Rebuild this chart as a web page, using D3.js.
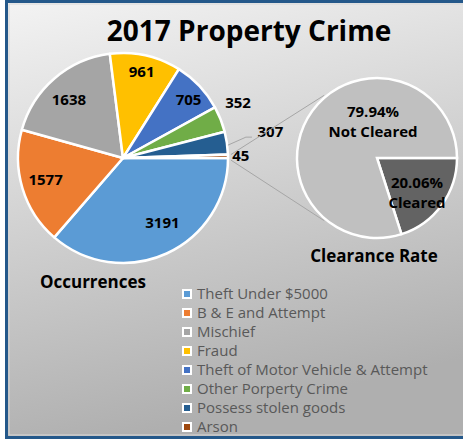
<!DOCTYPE html>
<html>
<head>
<meta charset="utf-8">
<script src="https://cdn.jsdelivr.net/npm/d3@7"></script>
<style>
  body { margin: 0; }
  text { font-family: "Open Sans", sans-serif; }
</style>
</head>
<body>
<script>
const width = 463;
const height = 439;

// data
const categories = ["Theft Under $5000", "B & E and Attempt", "Mischief", "Fraud",
    "Theft of Motor Vehicle & Attempt", "Other Porperty Crime", "Possess stolen goods", "Arson"];
const occurrences = [3191, 1577, 1638, 961, 705, 352, 307, 45];
const colors = ["#5b9bd5", "#ed7d31", "#a5a5a5", "#ffc000", "#4472c4", "#70ad47", "#255e91", "#9e480e"];

const clearLabels = ["Cleared", "Not Cleared"];
const clearPct = [20.06, 79.94];
const clearColors = ["#636363", "#c0c0c0"];

const main = { cx: 123, cy: 158, r: 105 };
const second = { cx: 377, cy: 158, r: 80 };

let svg = d3.select("body").append("svg")
    .attr("width", width)
    .attr("height", height);

let defs = svg.append("defs");
let grad = defs.append("linearGradient")
    .attr("id", "bg")
    .attr("x1", "0").attr("y1", "0")
    .attr("x2", "0.25").attr("y2", "1");
grad.append("stop").attr("offset", "0%").attr("stop-color", "#f3f3f3");
grad.append("stop").attr("offset", "100%").attr("stop-color", "#afafaf");

svg.append("rect")
    .attr("x", 6.5).attr("y", 1.5)
    .attr("width", 470).attr("height", 436)
    .attr("fill", "url(#bg)")
    .attr("stroke", "#24588a")
    .attr("stroke-width", 3);

svg.append("rect")
    .attr("x", 9).attr("y", 4)
    .attr("width", 470).attr("height", 431)
    .attr("fill", "none")
    .attr("stroke", "#d8d8d8")
    .attr("stroke-width", 1);

svg.append("text")
    .attr("x", 249).attr("y", 41)
    .attr("text-anchor", "middle")
    .style("font-size", "28px")
    .style("font-weight", "bold")
    .attr("fill", "#000")
    .text("2017 Property Crime");

// main pie
let pie = d3.pie()
    .sort(null)
    .startAngle(Math.PI / 2)
    .endAngle(Math.PI / 2 + 2 * Math.PI);

let arcs = pie(occurrences);
let arc = d3.arc().innerRadius(0).outerRadius(main.r);

let g = svg.append("g")
    .attr("transform", `translate(${main.cx},${main.cy})`);

// connector lines to the second pie
const pt = (cx, cy, r, a) => [cx + r * Math.sin(a), cy - r * Math.cos(a)];
let last = arcs[arcs.length - 1];
let top1 = pt(main.cx, main.cy, main.r + 3, last.startAngle);
let bot1 = pt(main.cx, main.cy, main.r + 3, last.endAngle + 0.02);
let top2 = pt(second.cx, second.cy, second.r + 2, -0.7);
let bot2 = pt(second.cx, second.cy, second.r + 2, Math.PI + 0.7);

svg.append("path")
    .attr("d", d3.line()([top1, top2]))
    .attr("stroke", "#a6a6a6").attr("fill", "none").attr("stroke-width", 1);
svg.append("path")
    .attr("d", d3.line()([bot1, bot2]))
    .attr("stroke", "#a6a6a6").attr("fill", "none").attr("stroke-width", 1);

g.selectAll(".slice")
    .data(arcs)
    .enter()
    .append("path")
    .attr("class", "slice")
    .attr("d", arc)
    .attr("fill", (d, i) => colors[i])
    .attr("stroke", "#fff")
    .attr("stroke-width", 2.5)
    .attr("stroke-linejoin", "round");

// label placement: inside for big slices, outside for small ones
const labelRadius = [0.72, 0.73, 0.73, 0.82, 0.78, 1.22, 1.36, 1.17];
const labelShift = [[8, -4], [-4, 0], [-4, 0], [0, -2], [6, -2], [-4, -8], [6, -6], [-5, 0]];

g.selectAll(".lbl")
    .data(arcs)
    .enter()
    .append("text")
    .attr("class", "lbl")
    .attr("x", (d, i) => {
        let a = (d.startAngle + d.endAngle) / 2;
        return main.r * labelRadius[i] * Math.sin(a) + labelShift[i][0];
    })
    .attr("y", (d, i) => {
        let a = (d.startAngle + d.endAngle) / 2;
        return -main.r * labelRadius[i] * Math.cos(a) + labelShift[i][1];
    })
    .attr("dy", "0.36em")
    .attr("text-anchor", "middle")
    .style("font-size", "15px")
    .style("font-weight", "bold")
    .attr("fill", "#000")
    .text(d => d.data);

// leader line for the 307 slice
let p307 = arcs[6];
let a307 = (p307.startAngle + p307.endAngle) / 2;
let s307 = [main.r * Math.sin(a307) + 1, -main.r * Math.cos(a307) + 2];
g.append("path")
    .attr("d", d3.line()([s307, [s307[0] + 18, s307[1] - 8], [s307[0] + 24, s307[1] - 8]]))
    .attr("stroke", "#a6a6a6").attr("fill", "none").attr("stroke-width", 1);

svg.append("text")
    .attr("x", 93).attr("y", 288)
    .attr("text-anchor", "middle")
    .style("font-size", "17px")
    .style("font-weight", "bold")
    .attr("fill", "#000")
    .text("Occurrences");

// second pie
let pie2 = d3.pie()
    .sort(null)
    .startAngle(Math.PI / 2)
    .endAngle(Math.PI / 2 + 2 * Math.PI);
let arcs2 = pie2(clearPct);
let arc2 = d3.arc().innerRadius(0).outerRadius(second.r);

let g2 = svg.append("g")
    .attr("transform", `translate(${second.cx},${second.cy})`);

g2.selectAll(".slice2")
    .data(arcs2)
    .enter()
    .append("path")
    .attr("class", "slice2")
    .attr("d", arc2)
    .attr("fill", (d, i) => clearColors[i])
    .attr("stroke", "#fff")
    .attr("stroke-width", 2.5);

const clearLabelPos = [[40, 40], [-4, -31]];
arcs2.forEach((d, i) => {
    let t = g2.append("text")
        .attr("text-anchor", "middle")
        .style("font-size", "15px")
        .style("font-weight", "bold")
        .attr("fill", "#000");
    t.append("tspan")
        .attr("x", clearLabelPos[i][0]).attr("y", clearLabelPos[i][1] - 10)
        .text(d3.format(".2f")(d.data) + "%");
    t.append("tspan")
        .attr("x", clearLabelPos[i][0]).attr("y", clearLabelPos[i][1] + 10)
        .text(clearLabels[i]);
});

svg.append("text")
    .attr("x", 374).attr("y", 262)
    .attr("text-anchor", "middle")
    .style("font-size", "17px")
    .style("font-weight", "bold")
    .attr("fill", "#000")
    .text("Clearance Rate");

// legend
let legend = svg.append("g")
    .attr("transform", "translate(182,294)");

let item = legend.selectAll(".item")
    .data(categories)
    .enter()
    .append("g")
    .attr("class", "item")
    .attr("transform", (d, i) => `translate(0,${i * 19})`);

item.append("rect")
    .attr("x", 0).attr("y", -5)
    .attr("width", 10).attr("height", 10)
    .attr("fill", "#fff");
item.append("rect")
    .attr("x", 2).attr("y", -3)
    .attr("width", 6).attr("height", 6)
    .attr("fill", (d, i) => colors[i]);
item.append("text")
    .attr("x", 15).attr("y", 0)
    .attr("dy", "0.35em")
    .style("font-size", "15px")
    .attr("fill", "#595959")
    .text(d => d);
</script>
</body>
</html>
